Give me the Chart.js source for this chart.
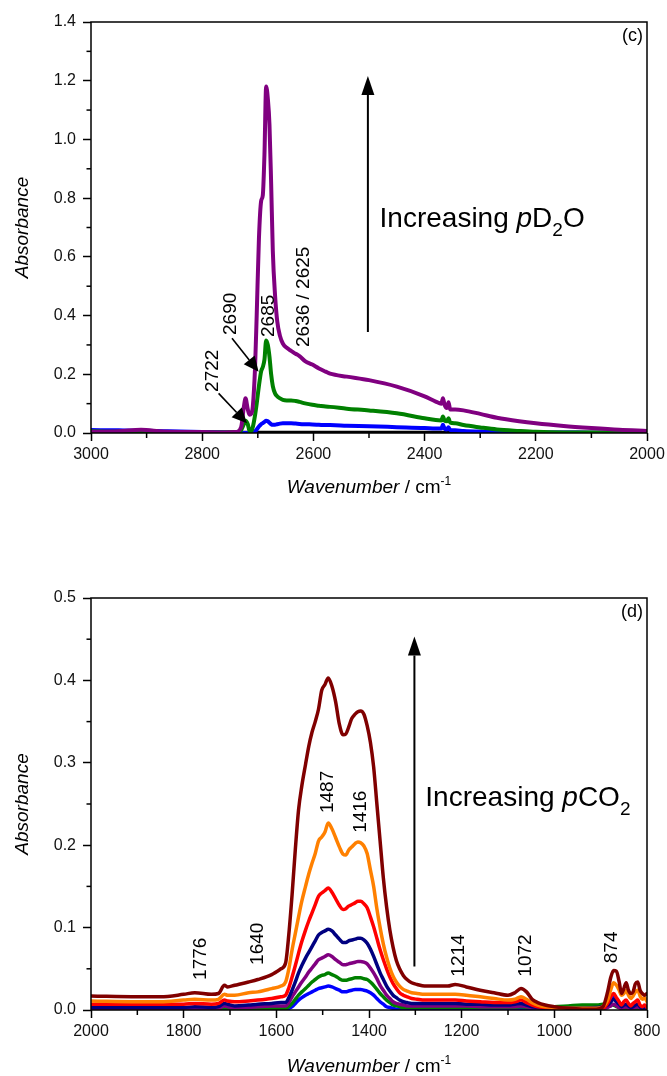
<!DOCTYPE html>
<html><head><meta charset="utf-8">
<script src="https://cdn.jsdelivr.net/npm/chart.js@4.4.1/dist/chart.umd.min.js"></script>
<style>
html,body{margin:0;padding:0;background:#fff;}
#wrap{position:relative;width:667px;height:1076px;overflow:hidden;}
canvas{position:absolute;left:0;}
</style></head><body>
<div id="wrap"><canvas id="c1" width="667" height="520" style="top:0px"></canvas><canvas id="c2" width="667" height="556" style="top:520px"></canvas></div>
<script>
// ---------- DATA: panel (c) ----------
const topWn = [3000,2950,2910,2870,2800,2760,2740,2730,2725,2722,
2718,2715,2712,2709,2705,2702,2698,2694,2691,2688,
2685,2682,2679,2676,2673,2669,2665,2660,2655,2648,
2640,2632,2625,2615,2602,2590,2578,2570,2540,2500,
2450,2400,2380,2370,2367,2364,2360,2357,2354,2345,
2330,2300,2270,2230,2200,2150,2100,2050,2000];
const topPurple = [0.004,0.006,0.011,0.005,0.003,0.002,0.003,0.02,0.09,0.118,
0.08,0.062,0.065,0.09,0.22,0.4,0.66,0.79,0.81,0.95,
1.18,1.14,1.05,0.85,0.62,0.47,0.38,0.33,0.305,0.29,
0.28,0.27,0.262,0.245,0.233,0.22,0.209,0.202,0.192,0.18,
0.158,0.125,0.107,0.1,0.118,0.095,0.085,0.105,0.08,0.08,
0.077,0.065,0.052,0.04,0.033,0.024,0.017,0.011,0.007];
const topGreen = [0.006,0.004,0.004,0.003,0.002,0.002,0.003,0.01,0.03,0.042,
0.03,0.008,0.005,0.02,0.06,0.1,0.16,0.21,0.225,0.25,
0.315,0.3,0.26,0.2,0.16,0.135,0.125,0.118,0.113,0.111,
0.111,0.109,0.106,0.101,0.096,0.093,0.09,0.089,0.083,0.077,
0.067,0.05,0.044,0.043,0.056,0.042,0.04,0.05,0.035,0.033,
0.027,0.019,0.012,0.007,0.004,0.002,0.002,0.001,0.001];
const topBlue = [0.01,0.009,0.008,0.006,0.003,0.002,0.001,0.0,0.0,0.0,
0.0,0.0,0.0,0.0,0.005,0.012,0.022,0.03,0.034,0.038,
0.042,0.04,0.035,0.03,0.028,0.028,0.03,0.032,0.033,0.033,
0.033,0.032,0.031,0.03,0.029,0.028,0.027,0.027,0.025,0.023,
0.02,0.017,0.015,0.015,0.028,0.015,0.012,0.02,0.01,0.009,
0.007,0.005,0.004,0.003,0.002,0.002,0.001,0.001,0.001];
const topBlack = [0.003,0.003,0.003,0.003,0.002,0.002,0.002,0.001,0.001,0.001,
0.001,0.001,0.001,0.001,0.001,0.001,0.001,0.001,0.001,0.001,
0.001,0.001,0.001,0.001,0.001,0.001,0.001,0.001,0.001,0.001,
0.001,0.001,0.001,0.001,0.001,0.001,0.001,0.001,0.001,0.001,
0.001,0.001,0.001,0.001,0.001,0.001,0.001,0.001,0.001,0.001,
0.001,0.001,0.001,0.001,0.001,0.001,0.001,0.001,0.001];

// ---------- DATA: panel (d) ----------
const botWn = [2000,1900,1850,1800,1776,1740,1725,1712,1705,1690,
1660,1640,1610,1590,1580,1573,1566,1559,1552,1545,
1537,1530,1523,1516,1509,1502,1495,1488,1480,1472,
1464,1456,1450,1444,1437,1430,1424,1418,1411,1404,
1397,1390,1383,1376,1369,1362,1355,1348,1341,1334,
1326,1318,1308,1296,1280,1250,1230,1214,1190,1160,
1130,1100,1085,1072,1060,1048,1036,1020,1000,970,
940,910,895,885,878,872,866,860,855,850,
845,840,835,830,825,820,815,810,805,800];
const botMaroon = [0.017,0.016,0.016,0.019,0.021,0.019,0.020,0.030,0.028,0.030,
0.034,0.037,0.043,0.050,0.057,0.092,0.140,0.195,0.243,0.272,
0.298,0.320,0.337,0.350,0.365,0.388,0.395,0.403,0.393,0.374,
0.347,0.334,0.335,0.343,0.354,0.359,0.362,0.363,0.359,0.345,
0.325,0.295,0.250,0.205,0.160,0.125,0.097,0.076,0.060,0.050,
0.042,0.037,0.033,0.031,0.029,0.029,0.029,0.031,0.028,0.024,
0.021,0.018,0.021,0.026,0.022,0.013,0.009,0.006,0.004,0.002,
0.001,0.001,0.004,0.022,0.040,0.048,0.047,0.034,0.020,0.026,
0.033,0.024,0.020,0.022,0.032,0.034,0.024,0.020,0.018,0.020];
const botOrange = [0.011,0.010,0.010,0.012,0.013,0.012,0.013,0.019,0.018,0.018,
0.021,0.022,0.026,0.029,0.034,0.050,0.073,0.093,0.113,0.132,
0.150,0.165,0.178,0.190,0.205,0.210,0.216,0.227,0.220,0.209,
0.198,0.189,0.188,0.194,0.198,0.202,0.204,0.203,0.199,0.190,
0.170,0.150,0.123,0.100,0.080,0.064,0.051,0.041,0.034,0.029,
0.025,0.023,0.021,0.020,0.019,0.019,0.019,0.019,0.018,0.016,
0.014,0.012,0.013,0.016,0.013,0.009,0.006,0.004,0.003,0.002,
0.002,0.002,0.004,0.012,0.025,0.033,0.030,0.024,0.018,0.020,
0.024,0.018,0.014,0.017,0.022,0.024,0.017,0.013,0.015,0.010];
const botRed = [0.007,0.007,0.007,0.007,0.008,0.007,0.008,0.012,0.011,0.010,
0.011,0.012,0.014,0.016,0.018,0.027,0.040,0.054,0.069,0.083,
0.097,0.108,0.118,0.128,0.138,0.142,0.145,0.148,0.143,0.135,
0.127,0.122,0.123,0.126,0.128,0.130,0.132,0.132,0.129,0.124,
0.113,0.101,0.087,0.073,0.061,0.050,0.040,0.032,0.026,0.021,
0.018,0.016,0.014,0.013,0.012,0.012,0.012,0.012,0.011,0.010,
0.009,0.009,0.010,0.012,0.009,0.006,0.004,0.003,0.002,0.001,
0.001,0.001,0.002,0.008,0.016,0.020,0.015,0.010,0.006,0.010,
0.012,0.008,0.005,0.008,0.010,0.012,0.006,0.004,0.006,0.003];
const botNavy = [0.003,0.003,0.003,0.003,0.004,0.003,0.004,0.008,0.007,0.005,
0.006,0.007,0.008,0.009,0.009,0.015,0.024,0.034,0.045,0.054,
0.063,0.070,0.077,0.084,0.091,0.094,0.096,0.098,0.096,0.091,
0.086,0.082,0.082,0.084,0.085,0.086,0.087,0.087,0.085,0.081,
0.074,0.065,0.055,0.045,0.037,0.029,0.023,0.018,0.015,0.012,
0.010,0.009,0.008,0.008,0.008,0.008,0.008,0.008,0.007,0.007,
0.006,0.006,0.007,0.008,0.006,0.004,0.003,0.002,0.002,0.002,
0.002,0.003,0.004,0.006,0.010,0.013,0.010,0.007,0.004,0.006,
0.007,0.005,0.003,0.004,0.006,0.007,0.004,0.002,0.003,0.002];
const botPurple = [0.001,0.001,0.001,0.001,0.002,0.001,0.002,0.005,0.004,0.003,
0.003,0.004,0.005,0.005,0.005,0.009,0.016,0.022,0.028,0.034,
0.040,0.046,0.051,0.056,0.061,0.063,0.065,0.067,0.065,0.061,
0.058,0.055,0.055,0.056,0.057,0.058,0.059,0.059,0.058,0.056,
0.051,0.045,0.038,0.030,0.024,0.018,0.014,0.010,0.008,0.007,
0.006,0.005,0.005,0.005,0.005,0.005,0.005,0.005,0.005,0.004,
0.004,0.004,0.004,0.005,0.004,0.003,0.002,0.001,0.001,0.001,
0.001,0.001,0.002,0.003,0.005,0.007,0.005,0.003,0.002,0.003,
0.004,0.002,0.001,0.002,0.003,0.004,0.002,0.001,0.002,0.001];
const botGreen = [0.001,0.001,0.001,0.001,0.001,0.001,0.001,0.003,0.002,0.001,
0.001,0.001,0.002,0.002,0.002,0.004,0.008,0.013,0.018,0.022,
0.026,0.030,0.034,0.037,0.040,0.042,0.043,0.045,0.043,0.041,
0.038,0.036,0.036,0.037,0.038,0.039,0.039,0.039,0.038,0.037,
0.034,0.030,0.025,0.020,0.016,0.012,0.009,0.006,0.005,0.004,
0.003,0.003,0.003,0.003,0.003,0.003,0.003,0.003,0.003,0.003,
0.003,0.003,0.003,0.004,0.003,0.003,0.003,0.003,0.004,0.005,
0.006,0.006,0.007,0.008,0.007,0.006,0.004,0.003,0.002,0.002,
0.002,0.001,0.001,0.001,0.002,0.002,0.001,0.001,0.001,0.001];
const botBlue = [0.000,0.000,0.000,0.000,0.000,0.000,0.000,0.001,0.001,0.000,
0.000,0.000,0.000,0.000,0.000,0.002,0.004,0.008,0.012,0.015,
0.018,0.020,0.022,0.024,0.026,0.027,0.028,0.029,0.028,0.026,
0.024,0.022,0.022,0.023,0.024,0.025,0.025,0.025,0.024,0.023,
0.021,0.018,0.014,0.010,0.007,0.004,0.003,0.002,0.001,0.001,
0.001,0.001,0.001,0.001,0.001,0.001,0.001,0.001,0.001,0.001,
0.001,0.001,0.001,0.001,0.001,0.001,0.001,0.001,0.002,0.003,
0.004,0.004,0.005,0.008,0.012,0.016,0.012,0.006,0.003,0.003,
0.004,0.002,0.001,0.001,0.002,0.003,0.001,0.001,0.001,0.001];

// ---------- Annotation texts ----------
const topPeakLabels = ['2722','2690','2685','2636 / 2625'];
const topPeakAnchors = [[2781,0.14],[2748.6,0.334],[2681,0.327],[2617,0.293]];
const topArrows = [[2770.5,0.135,2719.4,0.033],[2746.4,0.3225,2698.6,0.209]];
const botPeakLabels = ['1776','1640','1487','1416','1214','1072','874'];
const botPeakAnchors = [[1762.6,0.0365],[1640,0.0547],[1488.9,0.239],[1418.7,0.215],[1206.6,0.0405],[1061.5,0.0405],[875.5,0.0568]];

const FAM = '"Liberation Sans", Arial, Helvetica, sans-serif';
const fnt = (s, it) => (it ? 'italic ' : '') + s + 'px ' + FAM;

function drawRich(ctx, parts, x, y) {
  let cx = x;
  for (const p of parts) {
    ctx.font = p.font;
    ctx.fillText(p.t, cx, y + (p.dy || 0));
    cx += ctx.measureText(p.t).width;
  }
}
function richWidth(ctx, parts) {
  let w = 0;
  for (const p of parts) { ctx.font = p.font; w += ctx.measureText(p.t).width; }
  return w;
}
function arrow(ctx, x1, y1, x2, y2, hl, hw, lw) {
  const a = Math.atan2(y2 - y1, x2 - x1);
  const bx = x2 - hl * Math.cos(a), by = y2 - hl * Math.sin(a);
  ctx.lineWidth = lw;
  ctx.beginPath(); ctx.moveTo(x1, y1); ctx.lineTo(bx, by); ctx.stroke();
  ctx.beginPath(); ctx.moveTo(x2, y2);
  ctx.lineTo(bx + hw * Math.sin(a), by - hw * Math.cos(a));
  ctx.lineTo(bx - hw * Math.sin(a), by + hw * Math.cos(a));
  ctx.closePath(); ctx.fill();
}

function panelPlugin(cfg) {
  return {
    id: 'panel' + cfg.tag,
    afterDraw(chart) {
      const ctx = chart.ctx, ca = chart.chartArea;
      const xs = chart.scales.x, ys = chart.scales.y;
      ctx.save();
      ctx.strokeStyle = '#000'; ctx.fillStyle = '#000';
      ctx.lineWidth = 1.5;
      ctx.strokeRect(ca.left, ca.top, ca.right - ca.left, ca.bottom - ca.top);
      for (let v = cfg.xMin + cfg.xMinor; v < cfg.xMax; v += cfg.xMinor * 2) {
        const px = xs.getPixelForValue(v);
        ctx.beginPath(); ctx.moveTo(px, ca.bottom); ctx.lineTo(px, ca.bottom + 5); ctx.stroke();
      }
      for (let k = 1; k < cfg.yCount * 2; k += 2) {
        const py = ys.getPixelForValue(k * cfg.yMinor);
        ctx.beginPath(); ctx.moveTo(ca.left, py); ctx.lineTo(ca.left - 4.5, py); ctx.stroke();
      }
      ctx.save();
      ctx.translate(22.5, (ca.top + ca.bottom) / 2);
      ctx.rotate(-Math.PI / 2);
      ctx.textAlign = 'center'; ctx.textBaseline = 'middle';
      ctx.font = fnt(19, true);
      ctx.fillText('Absorbance', 0, 0);
      ctx.restore();
      ctx.textAlign = 'left'; ctx.textBaseline = 'alphabetic';
      const xt = [{t:'Wavenumber', font:fnt(19,true)},{t:' / cm', font:fnt(19)},{t:'-1', font:fnt(12), dy:-8}];
      const tw = richWidth(ctx, xt);
      drawRich(ctx, xt, (ca.left + ca.right) / 2 - tw / 2, ca.bottom + cfg.titleDy);
      ctx.font = fnt(18); ctx.textAlign = 'right'; ctx.textBaseline = 'top';
      ctx.fillText(cfg.tag, ca.right - 4, ca.top + 5);
      ctx.font = fnt(19); ctx.textAlign = 'left'; ctx.textBaseline = 'middle';
      cfg.labels.forEach((t, i) => {
        const px = xs.getPixelForValue(cfg.anchors[i][0]);
        const py = ys.getPixelForValue(cfg.anchors[i][1]);
        ctx.save(); ctx.translate(px, py); ctx.rotate(-Math.PI / 2);
        ctx.fillText(t, 0, 0); ctx.restore();
      });
      (cfg.arrows || []).forEach(a => {
        arrow(ctx, xs.getPixelForValue(a[0]), ys.getPixelForValue(a[1]),
              xs.getPixelForValue(a[2]), ys.getPixelForValue(a[3]), 15, 7, 1.6);
      });
      const bx = xs.getPixelForValue(cfg.big[0]);
      arrow(ctx, bx, ys.getPixelForValue(cfg.big[1]), bx, ys.getPixelForValue(cfg.big[2]), 19, 6.5, 2);
      ctx.textAlign = 'left'; ctx.textBaseline = 'alphabetic';
      drawRich(ctx, cfg.incParts, xs.getPixelForValue(cfg.inc[0]), ys.getPixelForValue(cfg.inc[1]));
      ctx.restore();
    }
  };
}

function makeChart(id, c) {
  return new Chart(document.getElementById(id), {
    type: 'line',
    data: {
      datasets: c.series.map((s, i) => ({
        label: s[0],
        data: c.wn.map((w, j) => ({ x: w, y: s[1][j] })),
        borderColor: s[2], backgroundColor: s[2],
        borderWidth: c.lw, pointRadius: 0, fill: false,
        borderJoinStyle: 'round', borderCapStyle: 'round',
        cubicInterpolationMode: 'monotone', order: i
      }))
    },
    options: {
      responsive: false, devicePixelRatio: 1, animation: false,
      layout: { padding: { left: 0, right: 20, top: c.padTop, bottom: 0 } },
      plugins: { legend: { display: false }, tooltip: { enabled: false } },
      scales: {
        x: {
          type: 'linear', reverse: true, min: c.xMin, max: c.xMax,
          ticks: { stepSize: c.xMinor * 2, callback: v => String(v), font: { family: FAM, size: 16 }, color: '#111', padding: 4, maxRotation: 0, autoSkip: false },
          grid: { display: true, drawOnChartArea: false, drawTicks: true, tickLength: 8, tickWidth: 1.5, tickColor: '#000' },
          border: { display: false },
          afterFit(s) { s.height = c.xAxisH; s.paddingLeft = 0; s.paddingRight = 0; }
        },
        y: {
          type: 'linear', min: 0, max: c.yMax,
          ticks: { stepSize: c.yMinor * 2, callback: v => Number(v).toFixed(1), font: { family: FAM, size: 16 }, color: '#111', padding: 7 },
          grid: { display: true, drawOnChartArea: false, drawTicks: true, tickLength: 8, tickWidth: 1.5, tickColor: '#000' },
          border: { display: false },
          afterFit(s) { s.width = 91; s.paddingTop = 0; s.paddingBottom = 0; }
        }
      }
    },
    plugins: [panelPlugin(c)]
  });
}

makeChart('c1', {
  tag: '(c)', wn: topWn, lw: 4, padTop: 22, xAxisH: 87,
  xMin: 2000, xMax: 3000, xMinor: 100, yMax: 1.4, yMinor: 0.1, yCount: 7, titleDy: 60,
  series: [['purple', topPurple, '#800080'], ['green', topGreen, '#008000'], ['blue', topBlue, '#0000FF'], ['black', topBlack, '#000000']],
  labels: topPeakLabels, anchors: topPeakAnchors, arrows: topArrows,
  big: [2502, 0.344, 1.216], inc: [2481, 0.703],
  incParts: [{t:'Increasing ', font:fnt(28)}, {t:'p', font:fnt(28,true)}, {t:'D', font:fnt(28)}, {t:'2', font:fnt(19), dy:9}, {t:'O', font:fnt(28)}]
});
makeChart('c2', {
  tag: '(d)', wn: botWn, lw: 3.5, padTop: 78, xAxisH: 66,
  xMin: 800, xMax: 2000, xMinor: 100, yMax: 0.5, yMinor: 0.05, yCount: 5, titleDy: 62,
  series: [['maroon', botMaroon, '#800000'], ['orange', botOrange, '#FF8000'], ['red', botRed, '#FF0000'], ['navy', botNavy, '#000080'], ['purple', botPurple, '#800080'], ['green', botGreen, '#008000'], ['blue', botBlue, '#0000FF']],
  labels: botPeakLabels, anchors: botPeakAnchors, arrows: [],
  big: [1302, 0.0527, 0.4534], inc: [1278.4, 0.248],
  incParts: [{t:'Increasing ', font:fnt(28)}, {t:'p', font:fnt(28,true)}, {t:'CO', font:fnt(28)}, {t:'2', font:fnt(19), dy:9}]
});
</script>
</body></html>
